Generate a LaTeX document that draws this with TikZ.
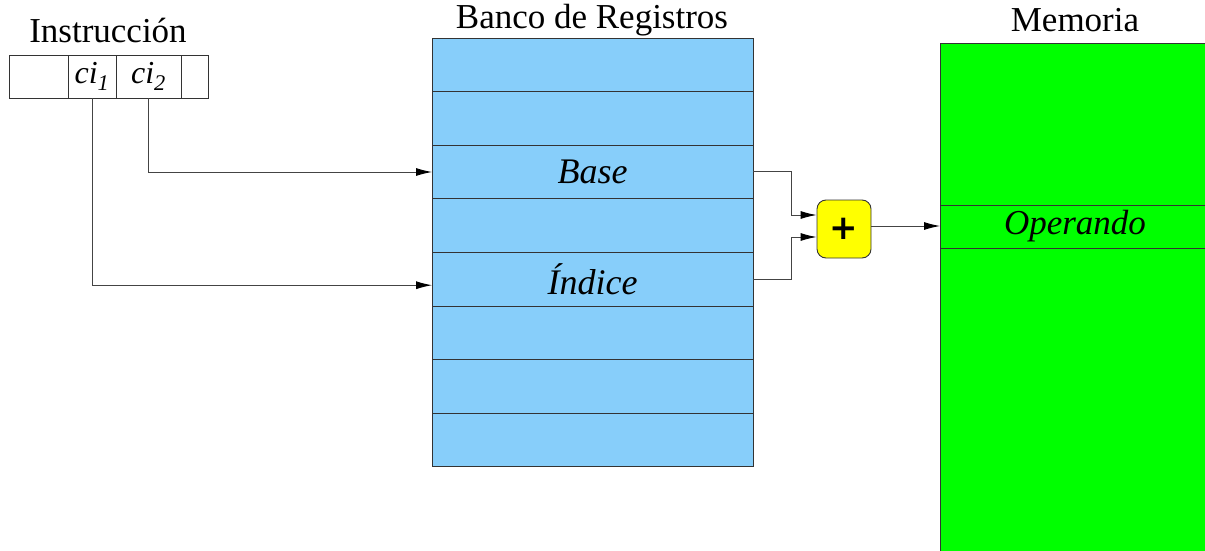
\documentclass[tikz,border=0pt]{standalone}
\usepackage{fontspec}
\setmainfont{Liberation Serif}
\newfontfamily\plusfont{DejaVu Sans}
\usetikzlibrary{arrows.meta}
\definecolor{regblue}{HTML}{87CEFA}
\definecolor{memgreen}{HTML}{00FF00}
\definecolor{addyellow}{HTML}{FFFF00}
\definecolor{edge}{HTML}{333333}
\definecolor{wiregray}{HTML}{444444}
\tikzset{
  cell/.style={draw=edge, line width=0.9pt, inner sep=0pt, outer sep=0pt},
  reg/.style={cell, fill=regblue, minimum width=321pt, minimum height=53.6pt, font=\fontsize{36}{36}\selectfont\itshape},
  title/.style={font=\fontsize{35}{35}\selectfont, inner sep=0pt},
  wire/.style={draw=wiregray, line width=0.9pt, -{Latex[length=16pt,width=8pt,fill=black,color=black]}},
}
\begin{document}
\begin{tikzpicture}[x=1pt,y=-1pt]
\useasboundingbox (0,0) rectangle (1205,551);

% instruction word
\node[title] (tins) at (108,31) {Instrucción};
\node[cell, minimum width=59pt, minimum height=43pt] (f0) at (38.5,76.5) {};
\node[cell, minimum width=48pt, minimum height=43pt, font=\fontsize{32}{32}\selectfont\itshape] (ci1) at (92,76.5) {ci\textsubscript{1}};
\node[cell, minimum width=65pt, minimum height=43pt, font=\fontsize{32}{32}\selectfont\itshape] (ci2) at (148.5,76.5) {ci\textsubscript{2}};
\node[cell, minimum width=27pt, minimum height=43pt] (f3) at (194.5,76.5) {};

% register file
\node[title] (tbank) at (592,20) {Banco de Registros};
\foreach \i/\t in {1/,2/,3/Base,4/,5/Índice,6/,7/,8/}{
  \node[reg] (reg\i) at (592.5,{38+26.8+53.6*(\i-1)}) {\t};
}

% memory
\node[title] (tmem) at (1075,20) {Memoria};
\fill[memgreen] (940,43) rectangle (1205,551);
\draw[edge, line width=0.9pt] (1205,43) -- (940,43) -- (940,551);
\draw[edge, line width=0.9pt] (940,205) -- (1205,205) (940,248) -- (1205,248);
\node[font=\fontsize{35}{35}\selectfont\itshape, inner sep=0pt, outer sep=0pt, minimum height=43pt] (oper) at (1075,226.5) {Operando};
\coordinate (memin) at (940,226);

% adder
\node[draw=edge, line width=0.9pt, fill=addyellow, rounded corners=9pt, minimum width=54pt, minimum height=58pt, font=\plusfont\fontsize{34}{34}\selectfont\bfseries] (add) at (844,229) {+};

% connections
\draw[wire] (ci2.south) |- (reg3.west);
\draw[wire] (ci1.south) |- ([yshift=-6pt]reg5.west);
\draw[wire] ([yshift=1pt]reg3.east) -- ++(38,0) |- ([yshift=14pt]add.west);
\draw[wire] (reg5.east) -- ++(38,0) |- ([yshift=-8pt]add.west);
\draw[wire] ([yshift=3pt]add.east) -- (memin);
\end{tikzpicture}
\end{document}
